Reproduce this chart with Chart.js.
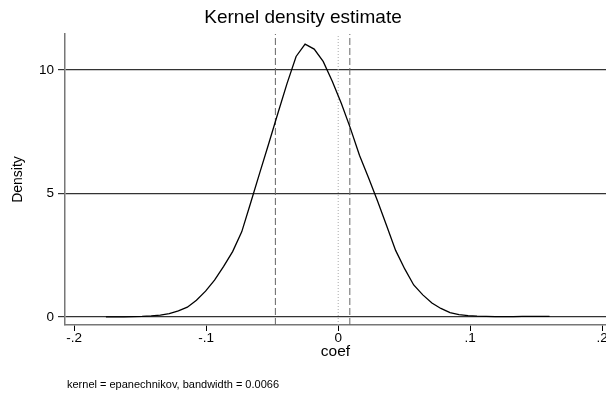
<!DOCTYPE html>
<html>
<head>
<meta charset="utf-8">
<script src="https://cdn.jsdelivr.net/npm/chart.js@4"></script>
<style>
  html, body { margin: 0; padding: 0; background: #fff; overflow: hidden; }
  #wrap { width: 606px; height: 400px; }
</style>
</head>
<body>
<div id="wrap"><canvas id="kdensity"></canvas></div>
<script>
// kernel density of coef, 50 points
var coefX = [-0.1760, -0.1691, -0.1623, -0.1554, -0.1486, -0.1417, -0.1348, -0.1280, -0.1211, -0.1143,
             -0.1074, -0.1005, -0.0937, -0.0868, -0.0800, -0.0731, -0.0662, -0.0594, -0.0525, -0.0457,
             -0.0388, -0.0319, -0.0251, -0.0182, -0.0114, -0.0045, 0.0024, 0.0092, 0.0161, 0.0229,
             0.0298, 0.0367, 0.0435, 0.0504, 0.0572, 0.0641, 0.0710, 0.0778, 0.0847, 0.0915,
             0.0984, 0.1052, 0.1121, 0.1190, 0.1258, 0.1327, 0.1395, 0.1464, 0.1532, 0.1601];
var density = [0.01, 0.01, 0.01, 0.02, 0.03, 0.05, 0.08, 0.14, 0.25, 0.40,
               0.68, 1.05, 1.50, 2.05, 2.65, 3.45, 4.65, 5.85, 7.05, 8.25,
               9.45, 10.55, 11.05, 10.85, 10.35, 9.55, 8.65, 7.65, 6.55, 5.65,
               4.70, 3.70, 2.70, 1.95, 1.30, 0.90, 0.57, 0.35, 0.18, 0.10,
               0.06, 0.04, 0.03, 0.02, 0.02, 0.02, 0.03, 0.03, 0.03, 0.03];

var dashedLines = [-0.0476, 0.0088];
var zeroLine = 0;

var xTicks = [-0.2, -0.1, 0, 0.1, 0.2];
var xTickLabels = ['-.2', '-.1', '0', '.1', '.2'];
var yTicks = [0, 5, 10];

var noteText = 'kernel = epanechnikov, bandwidth = 0.0066';

var yTop = 11.46, yBottom = -0.32;

function vline(x, dash, color) {
  return {
    data: [{ x: x, y: yBottom }, { x: x, y: yTop }],
    showLine: true, pointRadius: 0, borderWidth: 1,
    borderColor: color, borderDash: dash
  };
}

var notePlugin = {
  id: 'note',
  afterDraw(chart) {
    var ctx = chart.ctx;
    ctx.save();
    ctx.font = '11px "Liberation Sans", Arial, sans-serif';
    ctx.fillStyle = '#000';
    ctx.textBaseline = 'middle';
    ctx.fillText(noteText, 67, 385);
    ctx.restore();
  }
};

var font = '"Liberation Sans", Arial, sans-serif';

new Chart(document.getElementById('kdensity'), {
  type: 'scatter',
  data: {
    datasets: [
      {
        data: coefX.map((x, i) => ({ x: x, y: density[i] })),
        showLine: true, pointRadius: 0, borderWidth: 1.3,
        borderColor: '#000', tension: 0
      },
      vline(dashedLines[0], [7, 3], '#666'),
      vline(dashedLines[1], [7, 3], '#666'),
      vline(zeroLine, [1, 2], '#aaa')
    ]
  },
  options: {
    responsive: true,
    maintainAspectRatio: false,
    animation: false,
    layout: { padding: 0 },
    plugins: {
      legend: { display: false },
      tooltip: { enabled: false },
      title: {
        display: true,
        text: 'Kernel density estimate',
        color: '#000',
        font: { family: font, size: 19, weight: 'normal', lineHeight: 1.2 },
        padding: { top: 6, bottom: 5.2 }
      }
    },
    scales: {
      x: {
        type: 'linear',
        min: -0.2070, max: 0.2029,
        afterBuildTicks: s => { s.ticks = xTicks.map(v => ({ value: v })); },
        afterFit: s => { s.height = 75; s.paddingLeft = 0; s.paddingRight = 0; },
        ticks: {
          callback: (v, i) => xTickLabels[i],
          color: '#000', padding: -1,
          font: { family: font, size: 13.5 },
          maxRotation: 0, autoSkip: false
        },
        grid: { drawOnChartArea: false, tickLength: 6, tickColor: '#000' },
        border: { display: true, color: '#777', width: 1.5 },
        title: {
          display: true, text: 'coef', color: '#000',
          font: { family: font, size: 15.5 },
          padding: { top: 0, bottom: 39 }
        }
      },
      y: {
        min: yBottom, max: yTop,
        afterBuildTicks: s => { s.ticks = yTicks.map(v => ({ value: v })); },
        afterFit: s => { s.width = 65; s.paddingTop = 0; s.paddingBottom = 0; },
        ticks: {
          color: '#000', padding: 4,
          font: { family: font, size: 13.5 }
        },
        grid: { color: '#333', lineWidth: 1.2, tickLength: 7, tickColor: '#333' },
        border: { display: true, color: '#777', width: 1.5 },
        title: {
          display: true, text: 'Density', color: '#000',
          font: { family: font, size: 14 },
          padding: { top: 10, bottom: 0 }
        }
      }
    }
  },
  plugins: [notePlugin]
});
</script>
</body>
</html>
